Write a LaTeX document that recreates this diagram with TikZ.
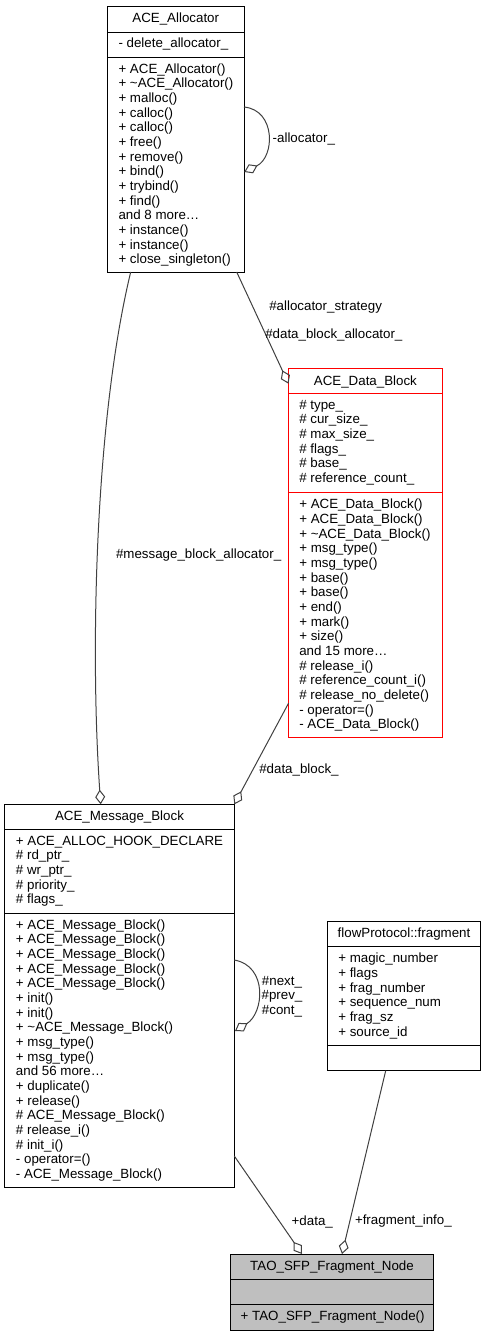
\documentclass[tikz,border=0pt]{standalone}
\usepackage{fontspec}
\setmainfont{Liberation Sans}
\usetikzlibrary{arrows.meta,fit,calc}
\definecolor{edgegray}{HTML}{404040}
\definecolor{nodegray}{HTML}{BFBFBF}
\begin{document}
\begin{tikzpicture}[x=0.75pt,y=-0.75pt,
  box/.style={draw=black, line width=0.75pt, inner sep=0pt, outer sep=0pt},
  sep/.style={draw=black, line width=0.75pt},
  txt/.style={font=\fontsize{10pt}{11pt}\selectfont, inner sep=0pt, outer sep=0pt},
  ttl/.style={txt, anchor=base},
  mem/.style={txt, anchor=base west},
  lbl/.style={txt, anchor=base west},
  assoc/.style={draw=edgegray, line width=0.75pt,
    -{Diamond[open, length=11pt, width=7.5pt, line width=0.75pt]}},
]
\useasboundingbox (0,0) rectangle (485,1336);

% ACE_Allocator
\node[box, fit={(107.5,6) (244,272)}] (alloc) {};
\draw[sep] (107.5,32) -- (244,32);
\draw[sep] (107.5,57) -- (244,57);
\node[ttl] (allocT) at (175.75,22.7) {ACE\_Allocator};
\node[mem] (allocA) at (118.5,47.5) {- delete\_allocator\_};
\node[mem] (allocO) at (118.5,73.3) {\parbox[t]{130pt}{%
+ ACE\_Allocator()\\
+ \textasciitilde ACE\_Allocator()\\
+ malloc()\\
+ calloc()\\
+ calloc()\\
+ free()\\
+ remove()\\
+ bind()\\
+ trybind()\\
+ find()\\
and 8 more…\\
+ instance()\\
+ instance()\\
+ close\_singleton()}};

% ACE_Data_Block
\node[box, draw=red, fit={(288.5,368.7) (442.3,737)}] (datab) {};
\draw[sep, draw=red] (288.5,393.3) -- (442.3,393.3);
\draw[sep, draw=red] (288.5,492.7) -- (442.3,492.7);
\node[ttl] (databT) at (365.4,385) {ACE\_Data\_Block};
\node[mem] (databA) at (299.3,409.3) {\parbox[t]{130pt}{%
\# type\_\\
\# cur\_size\_\\
\# max\_size\_\\
\# flags\_\\
\# base\_\\
\# reference\_count\_}};
\node[mem] (databO) at (299.3,508.7) {\parbox[t]{130pt}{%
+ ACE\_Data\_Block()\\
+ ACE\_Data\_Block()\\
+ \textasciitilde ACE\_Data\_Block()\\
+ msg\_type()\\
+ msg\_type()\\
+ base()\\
+ base()\\
+ end()\\
+ mark()\\
+ size()\\
and 15 more…\\
\# release\_i()\\
\# reference\_count\_i()\\
\# release\_no\_delete()\\
- operator=()\\
- ACE\_Data\_Block()}};

% ACE_Message_Block
\node[box, fit={(4.7,804.3) (234.3,1187.3)}] (msgb) {};
\draw[sep] (4.7,829.3) -- (234.3,829.3);
\draw[sep] (4.7,913.3) -- (234.3,913.3);
\node[ttl] (msgbT) at (119.5,820.3) {ACE\_Message\_Block};
\node[mem] (msgbA) at (16,845.3) {\parbox[t]{170pt}{%
+ ACE\_ALLOC\_HOOK\_DECLARE\\
\# rd\_ptr\_\\
\# wr\_ptr\_\\
\# priority\_\\
\# flags\_}};
\node[mem] (msgbO) at (16,929.3) {\parbox[t]{170pt}{%
+ ACE\_Message\_Block()\\
+ ACE\_Message\_Block()\\
+ ACE\_Message\_Block()\\
+ ACE\_Message\_Block()\\
+ ACE\_Message\_Block()\\
+ init()\\
+ init()\\
+ \textasciitilde ACE\_Message\_Block()\\
+ msg\_type()\\
+ msg\_type()\\
and 56 more…\\
+ duplicate()\\
+ release()\\
\# ACE\_Message\_Block()\\
\# release\_i()\\
\# init\_i()\\
- operator=()\\
- ACE\_Message\_Block()}};

% flowProtocol::fragment
\node[box, fit={(327.3,921.7) (480.7,1070.7)}] (frag) {};
\draw[sep] (327.3,946.7) -- (480.7,946.7);
\draw[sep] (327.3,1045.7) -- (480.7,1045.7);
\node[ttl] (fragT) at (404,937.7) {flowProtocol::fragment};
\node[mem] (fragA) at (338.3,962.7) {\parbox[t]{120pt}{%
+ magic\_number\\
+ flags\\
+ frag\_number\\
+ sequence\_num\\
+ frag\_sz\\
+ source\_id}};

% TAO_SFP_Fragment_Node
\node[box, fill=nodegray, fit={(230.7,1254) (433.3,1330)}] (tao) {};
\draw[sep] (230.7,1279) -- (433.3,1279);
\draw[sep] (230.7,1304.7) -- (433.3,1304.7);
\node[ttl] (taoT) at (332,1270) {TAO\_SFP\_Fragment\_Node};
\node[mem] (taoO) at (240.7,1320.7) {+ TAO\_SFP\_Fragment\_Node()};

% connectors
\draw[assoc] ($(alloc.north east)+(0,101)$) .. controls (276,110) and (275,157) .. ($(alloc.north east)+(0.3,166)$);
\node[lbl] (lAlloc) at (272.7,142.3) {-allocator\_};

\draw[assoc] ($(alloc.south west)+(129.2,0)$) -- ($(datab.north west)+(0,15)$);
\node[lbl] (lStrat) at (269.3,310) {\#allocator\_strategy};
\node[lbl] (lDBA) at (265.3,338.3) {\#data\_block\_allocator\_};

\draw[assoc] ($(alloc.south west)+(23.2,0)$) .. controls (95,420) and (90,650) .. ($(msgb.north west)+(96,0)$);
\node[lbl] (lMBA) at (116,558.3) {\#message\_block\_allocator\_};

\draw[assoc] ($(datab.south west)+(0,-33.7)$) -- (msgb.north east);
\node[lbl] (lDB) at (259.3,773.3) {\#data\_block\_};

\draw[assoc] ($(msgb.north east)+(0,155.7)$) .. controls (268,966) and (264,1013) .. ($(msgb.north east)+(0.7,226.7)$);
\node[txt, anchor=base] (lNext) at (282,985) {\parbox[t]{50pt}{\centering\#next\_\\\#prev\_\\\#cont\_}};

\draw[assoc] ($(msgb.south east)+(0,-31.3)$) -- ($(tao.north west)+(71.3,0)$);
\node[lbl] (lData) at (291.7,1225) {+data\_};

\draw[assoc] ($(frag.south west)+(58.4,0)$) -- ($(tao.north west)+(111.3,0)$);
\node[lbl] (lFrag) at (355,1224) {+fragment\_info\_};
\end{tikzpicture}
\end{document}
